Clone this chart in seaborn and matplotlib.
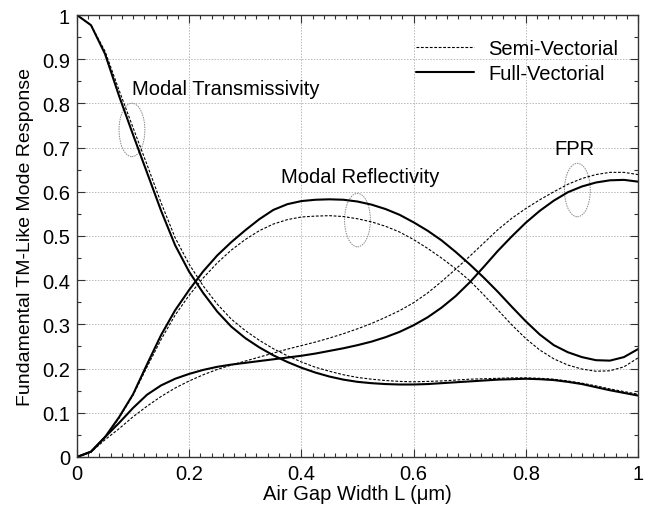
import numpy as np
import pandas as pd
import seaborn as sns
import matplotlib
matplotlib.use("Agg")
import matplotlib.pyplot as plt
from matplotlib.lines import Line2D
from matplotlib.patches import Ellipse
from matplotlib.ticker import MultipleLocator, FormatStrFormatter

# Air gap width L (um), sampled every 0.025
gap_width = [0.000, 0.025, 0.050, 0.075, 0.100, 0.125, 0.150, 0.175, 0.200, 0.225,
             0.250, 0.275, 0.300, 0.325, 0.350, 0.375, 0.400, 0.425, 0.450, 0.475,
             0.500, 0.525, 0.550, 0.575, 0.600, 0.625, 0.650, 0.675, 0.700, 0.725,
             0.750, 0.775, 0.800, 0.825, 0.850, 0.875, 0.900, 0.925, 0.950, 0.975,
             1.000]

trans_full = [1.000, 0.977, 0.912, 0.817, 0.729, 0.643, 0.557, 0.479, 0.419, 0.371,
              0.329, 0.295, 0.269, 0.248, 0.230, 0.215, 0.202, 0.191, 0.182, 0.175,
              0.170, 0.167, 0.165, 0.164, 0.164, 0.165, 0.167, 0.169, 0.171, 0.173,
              0.175, 0.176, 0.177, 0.176, 0.174, 0.170, 0.165, 0.158, 0.151, 0.145,
              0.139]
trans_semi = [1.000, 0.977, 0.918, 0.830, 0.745, 0.661, 0.575, 0.496, 0.436, 0.387,
              0.346, 0.312, 0.286, 0.264, 0.245, 0.229, 0.215, 0.203, 0.194, 0.186,
              0.180, 0.176, 0.173, 0.171, 0.170, 0.171, 0.172, 0.174, 0.176, 0.177,
              0.178, 0.179, 0.179, 0.178, 0.176, 0.172, 0.167, 0.161, 0.154, 0.148,
              0.142]

refl_full = [0.000, 0.012, 0.045, 0.090, 0.142, 0.210, 0.276, 0.332, 0.378, 0.420,
             0.456, 0.486, 0.513, 0.538, 0.559, 0.572, 0.579, 0.582, 0.583, 0.582,
             0.578, 0.571, 0.561, 0.548, 0.531, 0.512, 0.490, 0.464, 0.436, 0.406,
             0.374, 0.340, 0.307, 0.277, 0.253, 0.237, 0.226, 0.219, 0.218, 0.226,
             0.244]
refl_semi = [0.000, 0.012, 0.044, 0.088, 0.140, 0.204, 0.266, 0.321, 0.366, 0.405,
             0.439, 0.468, 0.492, 0.512, 0.527, 0.537, 0.543, 0.545, 0.546, 0.544,
             0.539, 0.532, 0.522, 0.509, 0.492, 0.472, 0.450, 0.426, 0.399, 0.367,
             0.333, 0.299, 0.268, 0.242, 0.222, 0.208, 0.199, 0.194, 0.195, 0.204,
             0.224]

fpr_full = [0.000, 0.012, 0.045, 0.077, 0.111, 0.141, 0.162, 0.177, 0.188, 0.197,
            0.204, 0.209, 0.213, 0.217, 0.221, 0.225, 0.229, 0.234, 0.240, 0.246,
            0.253, 0.261, 0.271, 0.283, 0.298, 0.316, 0.338, 0.364, 0.395, 0.430,
            0.466, 0.499, 0.530, 0.557, 0.580, 0.599, 0.612, 0.621, 0.626, 0.627,
            0.623]
fpr_semi = [0.000, 0.011, 0.039, 0.064, 0.091, 0.115, 0.137, 0.156, 0.172, 0.186,
            0.198, 0.208, 0.217, 0.226, 0.235, 0.244, 0.252, 0.260, 0.269, 0.279,
            0.290, 0.302, 0.316, 0.331, 0.349, 0.371, 0.397, 0.425, 0.454, 0.484,
            0.514, 0.540, 0.562, 0.582, 0.600, 0.617, 0.630, 0.639, 0.644, 0.644,
            0.639]

methods = ["Semi-Vectorial", "Full-Vectorial"]
quantities = ["Modal Transmissivity", "Modal Reflectivity", "FPR"]
series = {
    ("Modal Transmissivity", "Semi-Vectorial"): trans_semi,
    ("Modal Transmissivity", "Full-Vectorial"): trans_full,
    ("Modal Reflectivity", "Semi-Vectorial"): refl_semi,
    ("Modal Reflectivity", "Full-Vectorial"): refl_full,
    ("FPR", "Semi-Vectorial"): fpr_semi,
    ("FPR", "Full-Vectorial"): fpr_full,
}

rows = []
for (q, m), vals in series.items():
    for x, v in zip(gap_width, vals):
        rows.append({"L": x, "response": v, "quantity": q, "method": m})
df = pd.DataFrame(rows)

sns.set_style("white")
plt.rcParams["font.family"] = ["Liberation Sans", "DejaVu Sans"]
plt.rcParams["text.color"] = "black"
plt.rcParams["axes.labelcolor"] = "black"
plt.rcParams["xtick.color"] = "black"
plt.rcParams["ytick.color"] = "black"

fig = plt.figure(figsize=(6.49, 5.10), dpi=100)
ax = fig.add_axes([0.1186, 0.102, 0.8644, 0.8666])

dash_map = {"Semi-Vectorial": (2.5, 1.5), "Full-Vectorial": ""}
size_map = {"Semi-Vectorial": 0.8, "Full-Vectorial": 1.5}
sns.lineplot(data=df, x="L", y="response", hue="quantity", style="method",
             size="method", palette=["black"] * 3,
             dashes=dash_map, sizes=size_map, hue_order=quantities,
             style_order=methods, size_order=methods,
             estimator=None, errorbar=None, legend=False, ax=ax)

ax.set_xlim(0, 1)
ax.set_ylim(0, 1)
ax.xaxis.set_major_locator(MultipleLocator(0.2))
ax.xaxis.set_minor_locator(MultipleLocator(0.02))
ax.yaxis.set_major_locator(MultipleLocator(0.1))
ax.yaxis.set_minor_locator(MultipleLocator(0.05))
ax.xaxis.set_major_formatter(FormatStrFormatter("%g"))
ax.yaxis.set_major_formatter(FormatStrFormatter("%g"))

ax.tick_params(which="both", direction="in", top=True, right=True,
               bottom=True, left=True, color="#333333", width=0.8)
ax.tick_params(which="major", length=6, labelsize=14.5, pad=5)
ax.tick_params(which="minor", length=3)
for s in ax.spines.values():
    s.set_color("#333333")
    s.set_linewidth(1.0)

ax.grid(True, which="major", linestyle=(0, (1.5, 1.5)), color="#b8b8b8",
        linewidth=0.7)
ax.set_axisbelow(True)

ax.set_xlabel("Air Gap Width L (\u03bcm)", fontsize=14.5, labelpad=1)
ax.set_ylabel("Fundamental TM-Like Mode Response", fontsize=14, labelpad=6)

# curve labels with their grouping ellipses
ax.text(0.098, 0.821, "Modal Transmissivity", fontsize=14.5, ha="left",
        va="baseline")
ax.text(0.505, 0.622, "Modal Reflectivity", fontsize=14.5, ha="center",
        va="baseline")
ax.text(0.886, 0.686, "FPR", fontsize=14.5, ha="center", va="baseline")
for cx, cy in [(0.098, 0.74), (0.50, 0.536), (0.892, 0.604)]:
    ax.add_patch(Ellipse((cx, cy), 0.046, 0.121, fill=False,
                         edgecolor="#888888", linewidth=0.7,
                         linestyle=(0, (1.5, 1.0))))

handles = [Line2D([], [], color="black", lw=size_map["Semi-Vectorial"],
                  linestyle=(0, dash_map["Semi-Vectorial"])),
           Line2D([], [], color="black", lw=size_map["Full-Vectorial"],
                  linestyle="-")]
ax.legend(handles, methods, loc="upper right", bbox_to_anchor=(0.965, 0.945),
          frameon=False, fontsize=14.5, handlelength=2.9, handletextpad=0.7,
          labelspacing=0.3, borderpad=0, borderaxespad=0)

fig.savefig("out.png", dpi=100, facecolor="white")
